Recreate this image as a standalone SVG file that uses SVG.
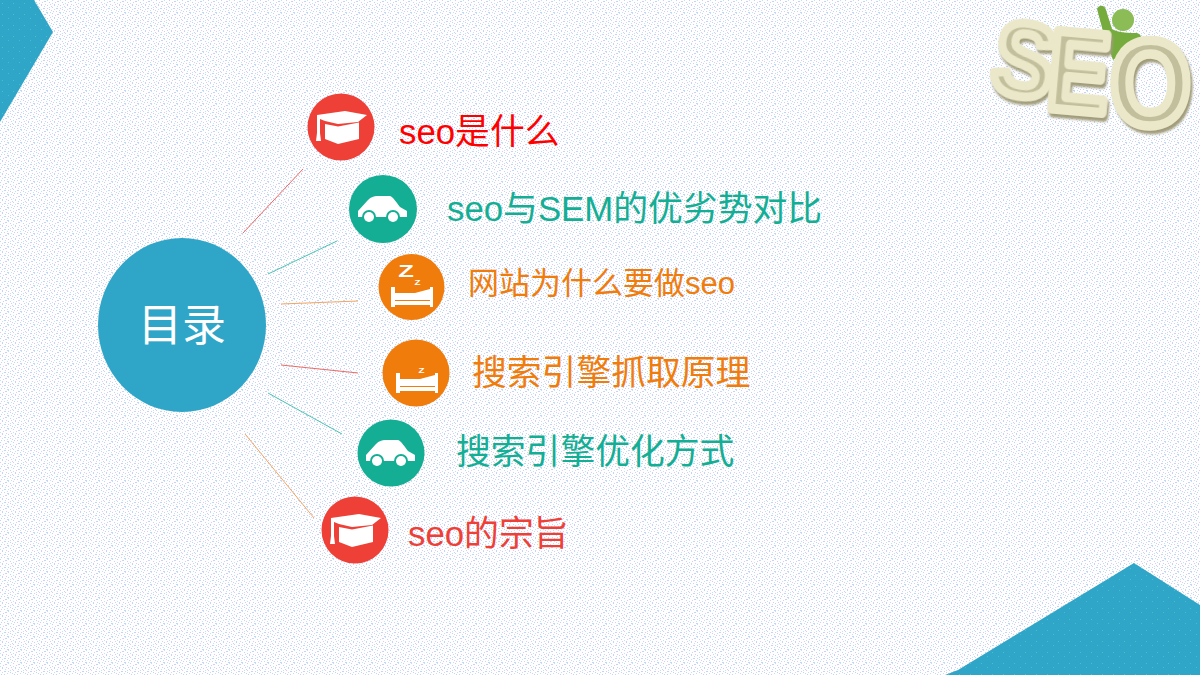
<svg xmlns="http://www.w3.org/2000/svg" width="1200" height="675" viewBox="0 0 1200 675">
<style>
text{font-family:"Liberation Sans","Noto Sans CJK SC",sans-serif}
.lbl{font-size:34.8px}
.w{fill:#fff}
.ln{fill:none;stroke-width:1}
.seo{font-family:"Liberation Sans",sans-serif;font-weight:700;stroke-width:8;stroke-linejoin:round;fill:#c2bf9c;stroke:#ebe8ca;paint-order:fill;filter:url(#solid)}
</style>
<defs>
<pattern id="dots" width="13" height="13" patternUnits="userSpaceOnUse">
<rect width="13" height="13" fill="#fefeff"/>
<path fill="#c6d2f6" d="M0 0h1v1H0zM5 1h2v1H5zM10 2h1v1h-1zM2 4h1v2H2zM8 5h1v1H8zM12 6h1v1h-1zM4 8h2v1H4zM10 9h1v1h-1zM1 11h1v1H1zM7 12h2v1H7z"/>
<path fill="#d8cdf5" d="M3 2h1v1H3zM11 4h1v1h-1zM6 4h1v1H6zM0 7h1v1H0zM8 8h1v1H8zM12 10h1v1h-1zM4 11h1v1H4z"/>
<path fill="#bfe2f4" d="M8 0h1v1H8zM0 3h1v1H0zM5 6h1v1H5zM10 7h1v1h-1zM2 9h1v1H2zM7 10h1v1H7zM11 12h1v1h-1z"/>
</pattern>
<pattern id="spark" width="11" height="11" patternUnits="userSpaceOnUse">
<rect width="11" height="11" fill="#2fa6c8"/>
<rect x="2" y="3" width="1" height="1" fill="#3fc4c8"/>
<rect x="8" y="7" width="1" height="1" fill="#45bccb"/>
</pattern>
<filter id="soft" x="-5%" y="-5%" width="110%" height="110%"><feGaussianBlur stdDeviation="0.7"/></filter>
<filter id="solid" x="-15%" y="-15%" width="130%" height="130%"><feDropShadow dx="2" dy="3" stdDeviation="0.8" flood-color="#a09c7a"/></filter>
<g id="hat">
<path class="w" d="M-24-12 4-16 26-12 17-5-3-3-16-6-21-8V-6H-24Z"/>
<path class="w" d="M-16-3-3-.5 18-4.500V12L-3 17-16 12Z"/>
<path class="w" d="M-24-8h3V6l1 8h-5l1-8Z"/>
</g>
<g id="car">
<path class="w" d="M-25 8V2L-15-9C-12-12-9-13-6-13H7C10-12 14-6 17-2L24 2V8Z"/>
<circle cx="-14" cy="8" r="7" fill="#13ae93"/><circle cx="10" cy="8" r="7" fill="#13ae93"/>
<circle cx="-14" cy="8" r="5" class="w"/><circle cx="10" cy="8" r="5" class="w"/>
</g>
<g id="bed">
<path class="w" d="M-20 0h4V6H4L19 2V0h3V20H19V18H-16V20H-20Z"/>
<path d="M-16 13.500H19" stroke="#f07c0c" stroke-width="1.200" fill="none"/>
</g>
</defs>
<rect width="1200" height="675" fill="url(#dots)"/>
<polygon points="0,0 34,0 53,32 0,122" fill="url(#spark)"/>
<polygon points="945,675 958,670 1134,563 1200,605 1200,675" fill="url(#spark)"/>

<g id="seo-logo">
<g filter="url(#soft)">
<path d="M1097 9C1099 4 1105 5 1106 10L1112 29C1118 33 1130 33 1137 33C1142 35 1143 39 1138 42L1113 60 1104 35Z" fill="#74ac3c"/>
<circle cx="1123" cy="20" r="11" fill="#8cbc54"/>
</g>
<text class="seo" font-size="92" transform="translate(988,90) rotate(10) scale(1,1.12)">S</text>
<text class="seo" font-size="92" transform="translate(1045,108) rotate(5) scale(1,1.22)">E</text>
<text class="seo" font-size="104" transform="translate(1110,125) scale(1,1.16)">O</text>
</g>

<g id="connectors">
<line class="ln" x1="243" y1="233" x2="303" y2="169" stroke="#ee6a60"/>
<line class="ln" x1="268" y1="274" x2="337" y2="241" stroke="#4cc4b0"/>
<line class="ln" x1="281" y1="304" x2="358" y2="301" stroke="#f3a660"/>
<line class="ln" x1="281" y1="365" x2="358" y2="373" stroke="#ee6a60"/>
<line class="ln" x1="268" y1="393" x2="342" y2="434" stroke="#4cc4b0"/>
<line class="ln" x1="245" y1="434" x2="314" y2="518" stroke="#f3a660"/>
</g>

<g id="center"><ellipse cx="182" cy="325" rx="84" ry="87" fill="#2fa6c8"/><text x="182" y="341" text-anchor="middle" font-size="44" fill="#fff">目录</text></g>

<g id="n1"><circle cx="341" cy="127" r="33.500" fill="#ee4036"/><use href="#hat" x="341" y="127"/><text class="lbl" x="399" y="144" fill="#ff0000">seo是什么</text></g>
<g id="n2"><circle cx="383" cy="209" r="34" fill="#13ae93"/><use href="#car" x="383" y="209"/><text class="lbl" x="447" y="221" fill="#13ae93">seo与SEM的优劣势对比</text></g>
<g id="n3"><circle cx="411.500" cy="287" r="33" fill="#f07c0c"/><text transform="translate(406,277) scale(1.5,1)" text-anchor="middle" font-size="17" font-weight="700" class="w">Z</text><text transform="translate(417.500,285) scale(1.4,1)" text-anchor="middle" font-size="7" font-weight="700" class="w">Z</text><use href="#bed" x="411" y="287"/><text x="468" y="294" font-size="31" fill="#f07c0c">网站为什么要做seo</text></g>
<g id="n4"><circle cx="416" cy="373" r="33.500" fill="#f07c0c"/><text transform="translate(421.500,373) scale(1.4,1)" text-anchor="middle" font-size="7" font-weight="700" class="w">Z</text><use href="#bed" x="416" y="373"/><text class="lbl" x="472" y="385" fill="#f07c0c">搜索引擎抓取原理</text></g>
<g id="n5"><circle cx="391" cy="453" r="33.500" fill="#13ae93"/><use href="#car" x="391" y="453"/><text class="lbl" x="456" y="464" fill="#13ae93">搜索引擎优化方式</text></g>
<g id="n6"><circle cx="355" cy="530" r="33.500" fill="#ee4036"/><use href="#hat" x="355" y="530"/><text class="lbl" x="408" y="546" fill="#ee4036">seo的宗旨</text></g>
</svg>
